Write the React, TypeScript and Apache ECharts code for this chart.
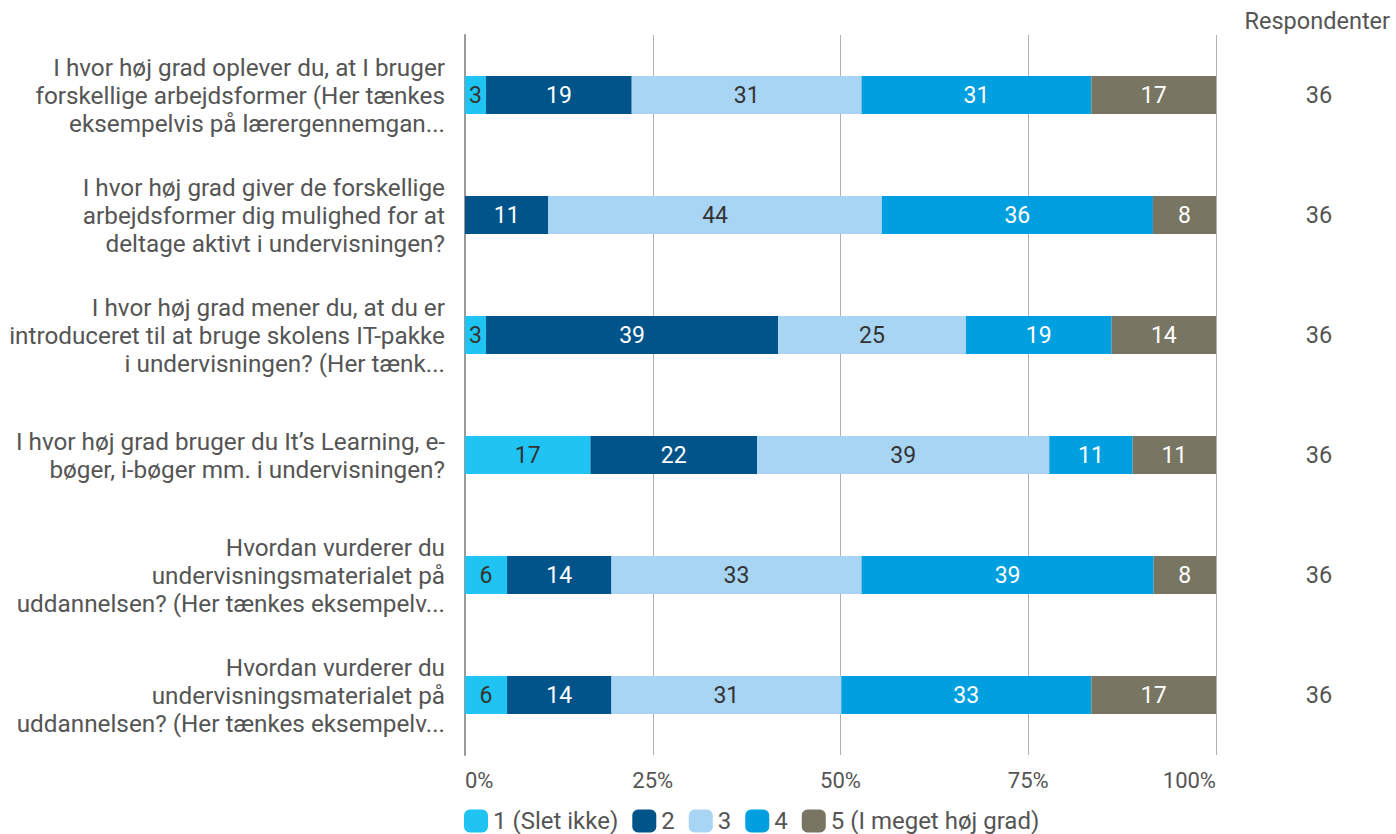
import React, { useEffect, useRef } from "react";
import * as echarts from "echarts";

const categories = [
  "I hvor høj grad oplever du, at I bruger\nforskellige arbejdsformer (Her tænkes\neksempelvis på lærergennemgan...",
  "I hvor høj grad giver de forskellige\narbejdsformer dig mulighed for at\ndeltage aktivt i undervisningen?",
  "I hvor høj grad mener du, at du er\nintroduceret til at bruge skolens IT-pakke\ni undervisningen? (Her tænk...",
  "I hvor høj grad bruger du It’s Learning, e-\nbøger, i-bøger mm. i undervisningen?",
  "Hvordan vurderer du\nundervisningsmaterialet på\nuddannelsen? (Her tænkes eksempelv...",
  "Hvordan vurderer du\nundervisningsmaterialet på\nuddannelsen? (Her tænkes eksempelv...",
];

const respondents = [36, 36, 36, 36, 36, 36];

const seriesNames = ["1 (Slet ikke)", "2", "3", "4", "5 (I meget høj grad)"];
const seriesColors = ["#1fc4f2", "#00548a", "#a9d5f5", "#009fe0", "#787562"];
const labelColors = ["#333333", "#ffffff", "#333333", "#ffffff", "#ffffff"];

// percentages per row
const s1 = [2.8, 0, 2.8, 16.7, 5.6, 5.6];
const s2 = [19.4, 11.1, 38.9, 22.2, 13.9, 13.9];
const s3 = [30.6, 44.4, 25.0, 38.9, 33.3, 30.6];
const s4 = [30.6, 36.1, 19.4, 11.1, 38.9, 33.3];
const s5 = [16.6, 8.4, 13.9, 11.1, 8.3, 16.6];
const seriesData = [s1, s2, s3, s4, s5];

const xTicks = [0, 25, 50, 75, 100];

export default function App() {
  const ref = useRef<HTMLDivElement>(null);
  useEffect(() => {
    if (!ref.current) return;
    const chart = echarts.init(ref.current, null, { renderer: "svg" });
    chart.setOption({
      animation: false,
      textStyle: { fontFamily: "Roboto" },
      grid: { left: 465, right: 180, top: 35, bottom: 79, containLabel: false },
      xAxis: {
        type: "value",
        min: xTicks[0],
        max: xTicks[xTicks.length - 1],
        interval: 25,
        axisLine: { show: false },
        axisTick: { show: false },
        splitLine: { show: true, lineStyle: { color: "#b0b0b0", width: 1 } },
        axisLabel: {
          formatter: "{value}%",
          color: "#555555",
          fontSize: 22,
          margin: 14,
          alignMinLabel: "left",
          alignMaxLabel: "right",
          fontFamily: "Roboto",
        },
      },
      yAxis: [
        {
          type: "category",
          inverse: true,
          data: categories,
          axisLine: { show: true, lineStyle: { color: "#999999", width: 2 } },
          axisTick: { show: false },
          axisLabel: {
            color: "#555555",
            fontSize: 24.3,
            lineHeight: 28,
            margin: 20,
            align: "right",
            fontFamily: "Roboto",
          },
        },
        {
          type: "category",
          inverse: true,
          position: "right",
          data: respondents.map(String),
          axisLine: { show: false },
          axisTick: { show: false },
          axisLabel: {
            color: "#555555",
            fontSize: 23.5,
            margin: 103,
            align: "center",
            fontFamily: "Roboto",
          },
        },
      ],
      legend: {
        left: 464,
        top: 809,
        padding: 0,
        itemWidth: 24,
        itemHeight: 23,
        itemGap: 14,
        icon: "roundRect",
        textStyle: { color: "#555555", fontSize: 24, fontFamily: "Roboto" },
        data: seriesNames,
      },
      graphic: [
        {
          type: "text",
          right: 6,
          top: 9,
          style: {
            text: "Respondenter",
            fill: "#555555",
            fontSize: 23.5,
            fontFamily: "Roboto",
          },
        },
      ],
      series: seriesNames.map((name, i) => ({
        name,
        type: "bar",
        stack: "total",
        barWidth: 38,
        yAxisIndex: 0,
        itemStyle: { color: seriesColors[i] },
        label: {
          show: true,
          position: "inside",
          color: labelColors[i],
          fontSize: 23,
          fontFamily: "Roboto",
          formatter: (p: any) => (p.value > 0 ? String(Math.round(p.value)) : ""),
        },
        data: seriesData[i],
      })),
    });
    return () => chart.dispose();
  }, []);
  return <div ref={ref} style={{ width: 1396, height: 834, position: "absolute", left: 0, top: 0 }} />;
}
